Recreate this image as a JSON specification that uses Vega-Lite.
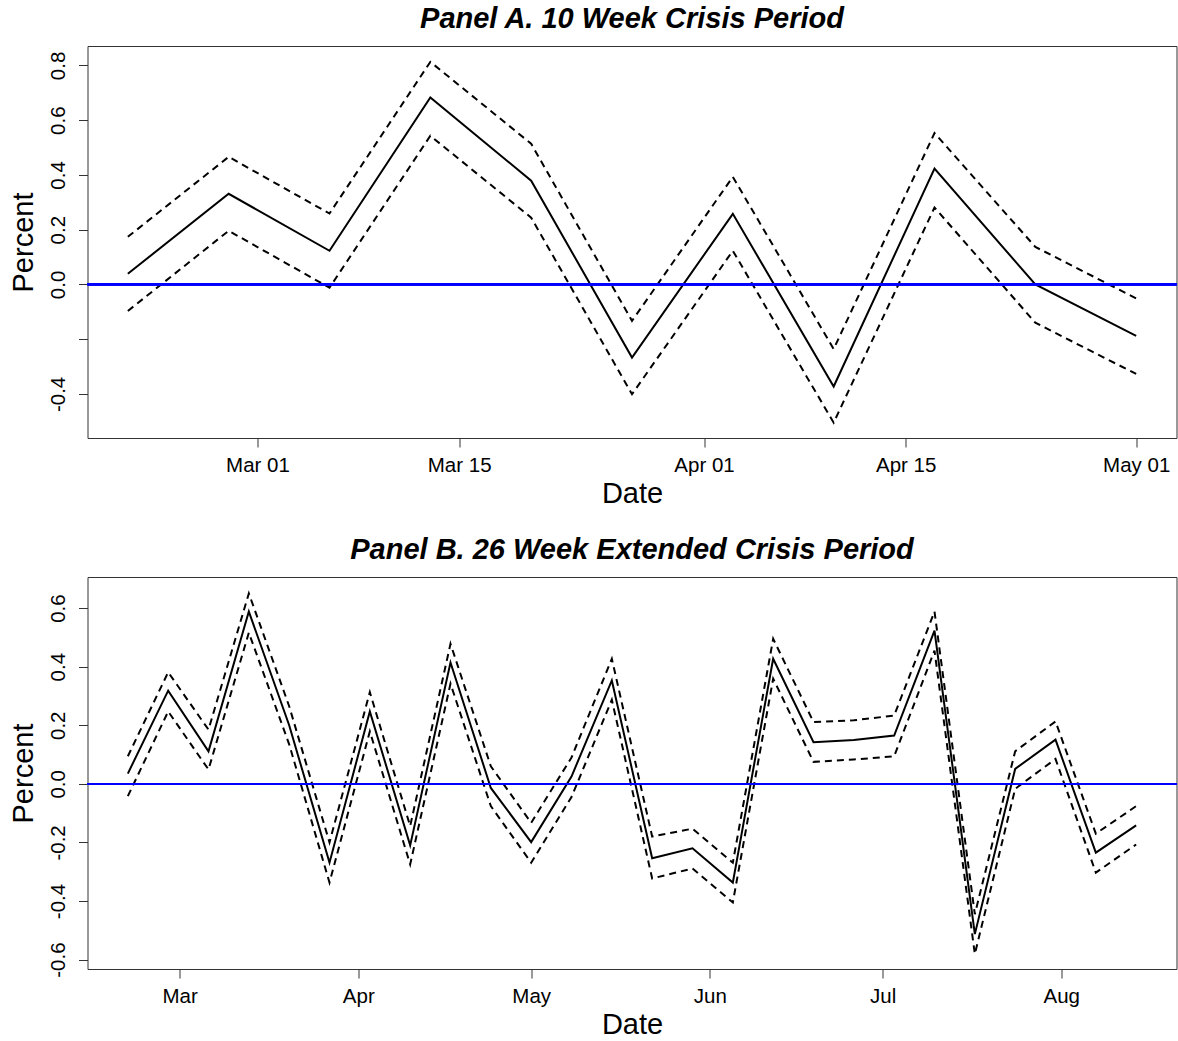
{
  "$schema": "https://vega.github.io/schema/vega-lite/v6.json",
  "padding": {"left": 8.5, "top": 4, "right": 0, "bottom": 0},
  "spacing": 26,
  "config": {
    "view": {"stroke": "#333", "strokeWidth": 1},
    "font": "Liberation Sans",
    "axis": {
      "grid": false,
      "domain": false,
      "tickSize": 9,
      "tickColor": "#333",
      "tickWidth": 1,
      "labelColor": "black",
      "labelFont": "Liberation Sans",
      "labelFontSize": 20.5,
      "titleFont": "Liberation Sans",
      "titleFontSize": 29,
      "titleFontWeight": "normal",
      "titleColor": "black"
    },
    "title": {
      "font": "Liberation Sans",
      "fontSize": 29,
      "fontStyle": "italic",
      "fontWeight": "bold",
      "color": "black",
      "anchor": "middle",
      "offset": 12
    }
  },
  "datasets": {
    "a": [
      {"date": "2020-02-21", "est": 0.039, "lo": -0.097, "hi": 0.174},
      {"date": "2020-02-28", "est": 0.331, "lo": 0.196, "hi": 0.466},
      {"date": "2020-03-06", "est": 0.123, "lo": -0.012, "hi": 0.259},
      {"date": "2020-03-13", "est": 0.683, "lo": 0.543, "hi": 0.813},
      {"date": "2020-03-20", "est": 0.379, "lo": 0.244, "hi": 0.514},
      {"date": "2020-03-27", "est": -0.267, "lo": -0.401, "hi": -0.133},
      {"date": "2020-04-03", "est": 0.258, "lo": 0.123, "hi": 0.393},
      {"date": "2020-04-10", "est": -0.373, "lo": -0.505, "hi": -0.236},
      {"date": "2020-04-17", "est": 0.423, "lo": 0.281, "hi": 0.553},
      {"date": "2020-04-24", "est": 0.0, "lo": -0.14, "hi": 0.137},
      {"date": "2020-05-01", "est": -0.188, "lo": -0.327, "hi": -0.051}
    ],
    "b": [
      {"date": "2020-02-21", "est": 0.035, "lo": -0.042, "hi": 0.094},
      {"date": "2020-02-28", "est": 0.318, "lo": 0.247, "hi": 0.381},
      {"date": "2020-03-06", "est": 0.111, "lo": 0.049, "hi": 0.185},
      {"date": "2020-03-13", "est": 0.588, "lo": 0.516, "hi": 0.65},
      {"date": "2020-03-20", "est": 0.2, "lo": 0.135, "hi": 0.265},
      {"date": "2020-03-27", "est": -0.269, "lo": -0.337, "hi": -0.2},
      {"date": "2020-04-03", "est": 0.247, "lo": 0.179, "hi": 0.313},
      {"date": "2020-04-10", "est": -0.21, "lo": -0.275, "hi": -0.144},
      {"date": "2020-04-17", "est": 0.414, "lo": 0.342, "hi": 0.478},
      {"date": "2020-04-24", "est": -0.014, "lo": -0.076, "hi": 0.06},
      {"date": "2020-05-01", "est": -0.199, "lo": -0.269, "hi": -0.133},
      {"date": "2020-05-08", "est": 0.025, "lo": -0.045, "hi": 0.09},
      {"date": "2020-05-15", "est": 0.353, "lo": 0.287, "hi": 0.427},
      {"date": "2020-05-22", "est": -0.254, "lo": -0.323, "hi": -0.18},
      {"date": "2020-05-29", "est": -0.22, "lo": -0.289, "hi": -0.153},
      {"date": "2020-06-05", "est": -0.337, "lo": -0.405, "hi": -0.269},
      {"date": "2020-06-12", "est": 0.427, "lo": 0.359, "hi": 0.495},
      {"date": "2020-06-19", "est": 0.142, "lo": 0.075, "hi": 0.211},
      {"date": "2020-06-26", "est": 0.15, "lo": 0.083, "hi": 0.217},
      {"date": "2020-07-03", "est": 0.165, "lo": 0.094, "hi": 0.233},
      {"date": "2020-07-10", "est": 0.523, "lo": 0.455, "hi": 0.588},
      {"date": "2020-07-17", "est": -0.513, "lo": -0.581, "hi": -0.445},
      {"date": "2020-07-24", "est": 0.051, "lo": -0.017, "hi": 0.111},
      {"date": "2020-07-31", "est": 0.151, "lo": 0.085, "hi": 0.213},
      {"date": "2020-08-07", "est": -0.235, "lo": -0.303, "hi": -0.17},
      {"date": "2020-08-14", "est": -0.142, "lo": -0.207, "hi": -0.076}
    ]
  },
  "vconcat": [
    {
      "width": 1089,
      "height": 392,
      "title": {"text": "Panel A. 10 Week Crisis Period"},
      "data": {"name": "a"},
      "layer": [
        {
          "mark": {"type": "line", "color": "black", "strokeWidth": 2},
          "encoding": {
            "x": {
              "field": "date", "type": "temporal", "title": "Date",
              "scale": {"type": "utc", "domain": [
                {"year": 2020, "month": 2, "date": 18, "hours": 4, "minutes": 48, "utc": true},
                {"year": 2020, "month": 5, "date": 3, "hours": 19, "minutes": 12, "utc": true}
              ]},
              "axis": {
                "values": [
                  {"year": 2020, "month": 3, "date": 1, "utc": true},
                  {"year": 2020, "month": 3, "date": 15, "utc": true},
                  {"year": 2020, "month": 4, "date": 1, "utc": true},
                  {"year": 2020, "month": 4, "date": 15, "utc": true},
                  {"year": 2020, "month": 5, "date": 1, "utc": true}
                ],
                "format": "%b %d",
                "labelPadding": 8,
                "titlePadding": 4
              }
            },
            "y": {
              "field": "est", "type": "quantitative", "title": "Percent",
              "scale": {"domain": [-0.561, 0.871], "nice": false, "zero": false},
              "axis": {
                "values": [-0.4, -0.2, 0, 0.2, 0.4, 0.6, 0.8],
                "format": ".1f",
                "labelExpr": "datum.value == -0.2 ? '' : replace(datum.label, '\u2212', '-')",
                "labelAngle": -90,
                "labelAlign": "center",
                "labelBaseline": "bottom",
                "labelPadding": 10.5,
                "titlePadding": 9.5
              }
            }
          }
        },
        {
          "mark": {"type": "line", "color": "black", "strokeWidth": 2, "strokeDash": [7, 5]},
          "encoding": {
            "x": {"field": "date", "type": "temporal"},
            "y": {"field": "lo", "type": "quantitative"}
          }
        },
        {
          "mark": {"type": "line", "color": "black", "strokeWidth": 2, "strokeDash": [7, 5]},
          "encoding": {
            "x": {"field": "date", "type": "temporal"},
            "y": {"field": "hi", "type": "quantitative"}
          }
        },
        {
          "mark": {"type": "rule", "color": "#0000ff", "strokeWidth": 1.7},
          "encoding": {"y": {"datum": 0, "type": "quantitative"}}
        }
      ]
    },
    {
      "width": 1089,
      "height": 392,
      "title": {"text": "Panel B. 26 Week Extended Crisis Period"},
      "data": {"name": "b"},
      "layer": [
        {
          "mark": {"type": "line", "color": "black", "strokeWidth": 2},
          "encoding": {
            "x": {
              "field": "date", "type": "temporal", "title": "Date",
              "scale": {"type": "utc", "domain": [
                {"year": 2020, "month": 2, "date": 14, "utc": true},
                {"year": 2020, "month": 8, "date": 21, "utc": true}
              ]},
              "axis": {
                "values": [
                  {"year": 2020, "month": 3, "date": 1, "utc": true},
                  {"year": 2020, "month": 4, "date": 1, "utc": true},
                  {"year": 2020, "month": 5, "date": 1, "utc": true},
                  {"year": 2020, "month": 6, "date": 1, "utc": true},
                  {"year": 2020, "month": 7, "date": 1, "utc": true},
                  {"year": 2020, "month": 8, "date": 1, "utc": true}
                ],
                "format": "%b",
                "labelPadding": 8,
                "titlePadding": 4
              }
            },
            "y": {
              "field": "est", "type": "quantitative", "title": "Percent",
              "scale": {"domain": [-0.632, 0.706], "nice": false, "zero": false},
              "axis": {
                "values": [-0.6, -0.4, -0.2, 0, 0.2, 0.4, 0.6],
                "format": ".1f",
                "labelExpr": "replace(datum.label, '\u2212', '-')",
                "labelAngle": -90,
                "labelAlign": "center",
                "labelBaseline": "bottom",
                "labelPadding": 10.5,
                "titlePadding": 9.5
              }
            }
          }
        },
        {
          "mark": {"type": "line", "color": "black", "strokeWidth": 2, "strokeDash": [7, 5]},
          "encoding": {
            "x": {"field": "date", "type": "temporal"},
            "y": {"field": "lo", "type": "quantitative"}
          }
        },
        {
          "mark": {"type": "line", "color": "black", "strokeWidth": 2, "strokeDash": [7, 5]},
          "encoding": {
            "x": {"field": "date", "type": "temporal"},
            "y": {"field": "hi", "type": "quantitative"}
          }
        },
        {
          "mark": {"type": "rule", "color": "#0000ff", "strokeWidth": 1.7},
          "encoding": {"y": {"datum": 0, "type": "quantitative"}}
        }
      ]
    }
  ]
}
